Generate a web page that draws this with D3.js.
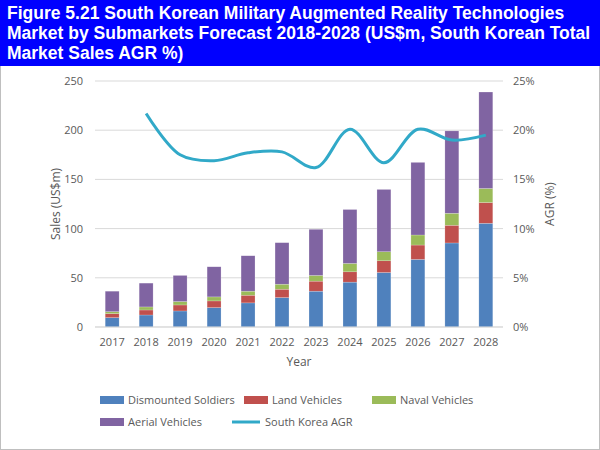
<!DOCTYPE html>
<html><head><meta charset="utf-8">
<script src="https://cdn.jsdelivr.net/npm/d3@7"></script>
<style>body{margin:0;background:#fff}svg{font-family:"Open Sans",sans-serif}</style>
</head><body><svg id="chart" width="600" height="450"></svg>
<script>
var data = [
  {year: "2017", dis: 9.5, land: 4.1, naval: 2.0, aerial: 20.8, agr: null},
  {year: "2018", dis: 12.2, land: 5.1, naval: 3.1, aerial: 24.2, agr: 21.7},
  {year: "2019", dis: 16.3, land: 6.1, naval: 3.5, aerial: 26.5, agr: 17.5},
  {year: "2020", dis: 19.7, land: 6.8, naval: 4.1, aerial: 30.6, agr: 16.9},
  {year: "2021", dis: 24.5, land: 7.8, naval: 4.1, aerial: 36.0, agr: 17.7},
  {year: "2022", dis: 29.9, land: 8.5, naval: 5.1, aerial: 42.2, agr: 17.8},
  {year: "2023", dis: 36.4, land: 10.2, naval: 5.8, aerial: 46.9, agr: 16.2},
  {year: "2024", dis: 45.6, land: 10.5, naval: 8.5, aerial: 54.8, agr: 20.1},
  {year: "2025", dis: 55.4, land: 11.9, naval: 9.2, aerial: 63.3, agr: 16.7},
  {year: "2026", dis: 68.7, land: 14.6, naval: 10.2, aerial: 73.8, agr: 20.1},
  {year: "2027", dis: 85.4, land: 18.0, naval: 12.2, aerial: 83.7, agr: 19.0},
  {year: "2028", dis: 105.4, land: 21.1, naval: 14.3, aerial: 98.0, agr: 19.5}
];
var keys = ["dis", "land", "naval", "aerial"];
var colors = {dis: "#4f81bd", land: "#c0504d", naval: "#9bbb59", aerial: "#8064a2"};

var svg = d3.select("#chart");
svg.append("rect").attr("x", 0.5).attr("y", 0.5).attr("width", 599).attr("height", 449)
  .attr("fill", "#fff").attr("stroke", "#bfbfbf");

// title box
svg.append("rect").attr("x", 0).attr("y", 0).attr("width", 600).attr("height", 66).attr("fill", "#0000ff");
var title = ["Figure 5.21 South Korean Military Augmented Reality Technologies",
  "Market by Submarkets Forecast 2018-2028 (US$m, South Korean Total",
  "Market Sales AGR %)"];
svg.selectAll(".title").data(title).enter().append("text")
  .attr("x", 7).attr("y", function (d, i) { return 19 + i * 20; })
  .attr("fill", "#fff").attr("font-family", "Arial, 'Liberation Sans', sans-serif")
  .attr("font-weight", "bold").attr("font-size", 17.5).text(function (d) { return d; });

var m = {left: 95, right: 503, top: 81, bottom: 327};
var x = d3.scaleBand().domain(data.map(function (d) { return d.year; }))
  .range([m.left, m.right]).paddingInner(0.59).paddingOuter(0.3);
var y = d3.scaleLinear().domain([0, 250]).range([m.bottom, m.top]);
var y2 = d3.scaleLinear().domain([0, 25]).range([m.bottom, m.top]);

// grid
svg.append("g").selectAll("line").data(y.ticks(5)).enter().append("line")
  .attr("x1", m.left).attr("x2", m.right)
  .attr("y1", function (d) { return y(d); }).attr("y2", function (d) { return y(d); })
  .attr("stroke", "#d9d9d9");

var stack = d3.stack().keys(keys)(data);
svg.append("g").selectAll("g").data(stack).enter().append("g")
  .attr("fill", function (s) { return colors[s.key]; })
  .selectAll("rect").data(function (s) { return s; }).enter().append("rect")
  .attr("x", function (d) { return x(d.data.year); })
  .attr("width", x.bandwidth())
  .attr("y", function (d) { return y(d[1]); })
  .attr("height", function (d) { return y(d[0]) - y(d[1]); })
  .attr("stroke", "#fff").attr("stroke-opacity", 0.4).attr("stroke-width", 0.5);

var line = d3.line()
  .x(function (d) { return x(d.year) + x.bandwidth() / 2; })
  .y(function (d) { return y2(d.agr); })
  .curve(d3.curveCatmullRom.alpha(0.5));
svg.append("path").datum(data.filter(function (d) { return d.agr != null; }))
  .attr("d", line).attr("fill", "none").attr("stroke", "#31a9c8").attr("stroke-width", 3);

// axes
var ax = svg.append("g").attr("font-size", 11).attr("fill", "#595959");
ax.selectAll(".yl").data(y.ticks(5)).enter().append("text")
  .attr("x", m.left - 12).attr("y", function (d) { return y(d) + 4; })
  .attr("text-anchor", "end").text(function (d) { return d; });
ax.selectAll(".yr").data(y2.ticks(5)).enter().append("text")
  .attr("x", m.right + 10).attr("y", function (d) { return y2(d) + 4; })
  .text(function (d) { return d + "%"; });
ax.selectAll(".xl").data(data).enter().append("text")
  .attr("x", function (d) { return x(d.year) + x.bandwidth() / 2; }).attr("y", m.bottom + 19)
  .attr("text-anchor", "middle").text(function (d) { return d.year; });
svg.append("line").attr("x1", m.left).attr("x2", m.right).attr("y1", m.bottom).attr("y2", m.bottom)
  .attr("stroke", "#d9d9d9");

var lab = svg.append("g").attr("font-size", 12).attr("fill", "#595959").attr("text-anchor", "middle");
lab.append("text").attr("x", 299).attr("y", 366).text("Year");
lab.append("text").attr("transform", "translate(60,204) rotate(-90)").text("Sales (US$m)");
lab.append("text").attr("transform", "translate(554,204) rotate(-90)").text("AGR (%)");

// legend
var legend = [
  {label: "Dismounted Soldiers", color: colors.dis, x: 100, y: 400},
  {label: "Land Vehicles", color: colors.land, x: 244, y: 400},
  {label: "Naval Vehicles", color: colors.naval, x: 372, y: 400},
  {label: "Aerial Vehicles", color: colors.aerial, x: 100, y: 422},
  {label: "South Korea AGR", color: "#31a9c8", x: 232, y: 422, line: true}
];
var lg = svg.append("g").attr("font-size", 11).attr("fill", "#595959");
legend.forEach(function (d) {
  if (d.line) {
    lg.append("line").attr("x1", d.x).attr("x2", d.x + 28).attr("y1", d.y).attr("y2", d.y)
      .attr("stroke", d.color).attr("stroke-width", 3);
    lg.append("text").attr("x", d.x + 33).attr("y", d.y + 4).text(d.label);
  } else {
    lg.append("rect").attr("x", d.x).attr("y", d.y - 4).attr("width", 24).attr("height", 8).attr("fill", d.color);
    lg.append("text").attr("x", d.x + 28).attr("y", d.y + 4).text(d.label);
  }
});
</script></body></html>
